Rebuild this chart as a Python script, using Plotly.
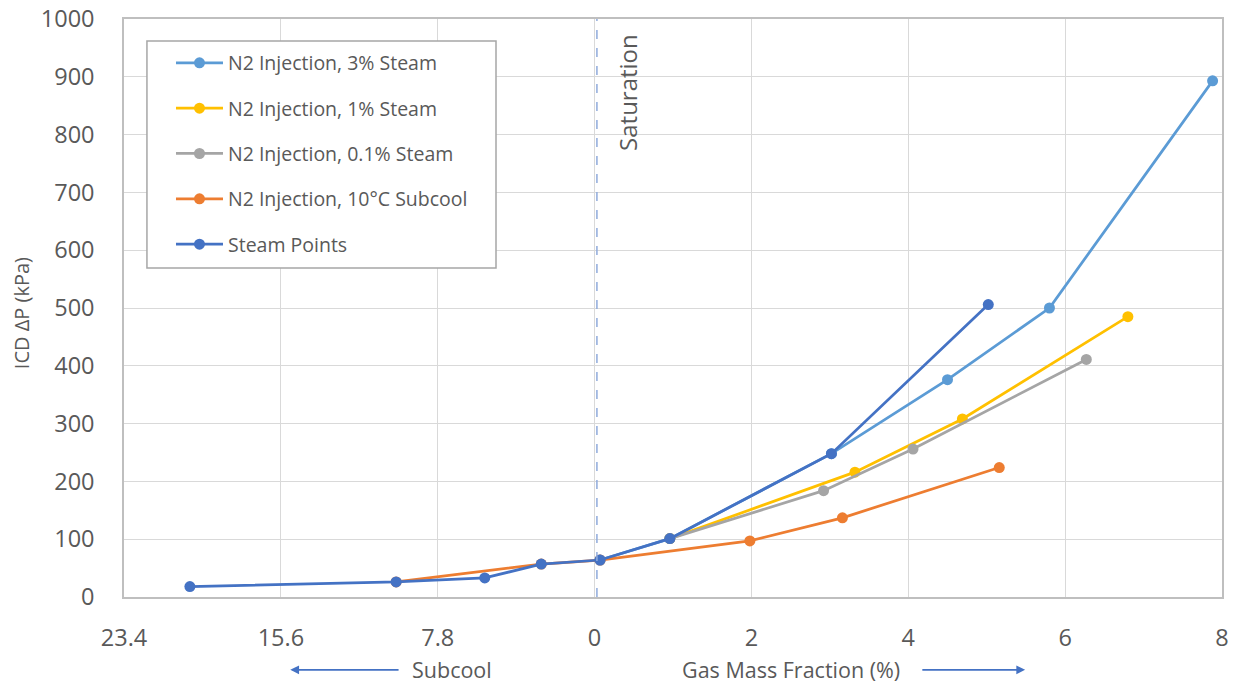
import plotly.graph_objects as go

# x positions: negative = subcool region (relabelled), positive = gas mass fraction (%)
steam_x = [-5.16, -2.53, -1.4, -0.68, 0.07, 0.96, 3.02, 5.02]
steam_y = [18, 26, 33, 57, 64, 101, 248, 506]

n2_3pct_x = [0.07, 0.96, 3.02, 4.5, 5.8, 7.88]
n2_3pct_y = [64, 101, 248, 376, 500, 893]

n2_1pct_x = [0.96, 3.32, 4.69, 6.8]
n2_1pct_y = [101, 216, 308, 485]

n2_01pct_x = [0.96, 2.92, 4.06, 6.27]
n2_01pct_y = [101, 184, 256, 411]

n2_sub_x = [-2.53, -0.68, 0.07, 1.98, 3.16, 5.16]
n2_sub_y = [26, 57, 64, 97, 137, 224]

tick_vals = [-6, -4, -2, 0, 2, 4, 6, 8]
tick_text = ["23.4", "15.6", "7.8", "0", "2", "4", "6", "8"]

series = [
    ("N2 Injection, 3% Steam", n2_3pct_x, n2_3pct_y, "#5B9BD5"),
    ("N2 Injection, 1% Steam", n2_1pct_x, n2_1pct_y, "#FFC000"),
    ("N2 Injection, 0.1% Steam", n2_01pct_x, n2_01pct_y, "#A5A5A5"),
    ("N2 Injection, 10°C Subcool", n2_sub_x, n2_sub_y, "#ED7D31"),
    ("Steam Points", steam_x, steam_y, "#4472C4"),
]

FONT = "Open Sans"
TXT = "#595959"

fig = go.Figure()
for i, (name, xs, ys, col) in enumerate(series):
    fig.add_trace(go.Scatter(
        x=xs, y=ys, name=name, mode="lines+markers",
        line=dict(color=col, width=2.75),
        marker=dict(color=col, size=11),
        legendgroup=f"g{i}",
    ))

# legend frame (white box with grey border)
fig.add_shape(type="rect", xref="paper", yref="paper",
              x0=0.0209, x1=0.3388, y0=0.569, y1=0.962,
              line=dict(color="#A6A6A6", width=1.5), fillcolor="white", layer="above")

# saturation boundary
fig.add_shape(type="line", x0=0.03, x1=0.03, y0=0, y1=1000, xref="x", yref="y",
              line=dict(color="#8FAADC", width=1.5, dash="dash"))
fig.add_annotation(x=0.03, y=1000, xref="x", yref="y", text="Saturation",
                   textangle=-90, showarrow=False, xanchor="left", yanchor="top",
                   xshift=12, yshift=-13, font=dict(family=FONT, size=24, color=TXT))

# y-axis title
fig.add_annotation(x=-0.0938, y=0.491, xref="paper", yref="paper", text="ICD ΔP (kPa)",
                   textangle=-90, showarrow=False, xanchor="center", yanchor="middle",
                   font=dict(family=FONT, size=20, color=TXT))

# direction arrows below the axis
ARROW_Y = -0.126
fig.add_annotation(x=-3.88, y=ARROW_Y, xref="x", yref="paper", ax=-2.48, ay=0,
                   axref="x", ayref="pixel", text="", showarrow=True,
                   arrowhead=2, arrowsize=1.1, arrowwidth=1.6, arrowcolor="#4472C4")
fig.add_annotation(x=-2.34, y=ARROW_Y, xref="x", yref="paper", text="Subcool",
                   showarrow=False, xanchor="left", yanchor="middle", borderpad=0,
                   font=dict(family=FONT, size=21.5, color=TXT))
fig.add_annotation(x=1.10, y=ARROW_Y, xref="x", yref="paper", text="Gas Mass Fraction (%)",
                   showarrow=False, xanchor="left", yanchor="middle", borderpad=0,
                   font=dict(family=FONT, size=21.5, color=TXT))
fig.add_annotation(x=5.49, y=ARROW_Y, xref="x", yref="paper", ax=4.16, ay=0,
                   axref="x", ayref="pixel", text="", showarrow=True,
                   arrowhead=2, arrowsize=1.1, arrowwidth=1.6, arrowcolor="#4472C4")

fig.update_layout(
    width=1240, height=686,
    margin=dict(l=124, r=18, t=19, b=89, autoexpand=False),
    paper_bgcolor="white", plot_bgcolor="white",
    font=dict(family=FONT, color=TXT),
    legend=dict(
        x=0.0428, y=0.9574, xanchor="left", yanchor="top",
        borderwidth=0, bgcolor="rgba(0,0,0,0)",
        font=dict(family=FONT, size=19.5, color=TXT),
        tracegroupgap=17, itemwidth=47,
    ),
    xaxis=dict(
        range=[-6, 8], tickvals=tick_vals, ticktext=tick_text, automargin=False,
        showgrid=True, gridcolor="#D9D9D9", gridwidth=1.2,
        zeroline=False, showline=True, linecolor="#BFBFBF", linewidth=1.5,
        mirror=True, ticks="", ticklabelstandoff=19,
        tickfont=dict(family=FONT, size=23.5, color=TXT),
    ),
    yaxis=dict(
        range=[0, 1000], dtick=100, automargin=False,
        showgrid=True, gridcolor="#D9D9D9", gridwidth=1.2,
        zeroline=False, showline=True, linecolor="#BFBFBF", linewidth=1.5,
        mirror=True, ticks="", ticklabelstandoff=23,
        tickfont=dict(family=FONT, size=23.5, color=TXT),
    ),
)

fig.write_html("out.html")
